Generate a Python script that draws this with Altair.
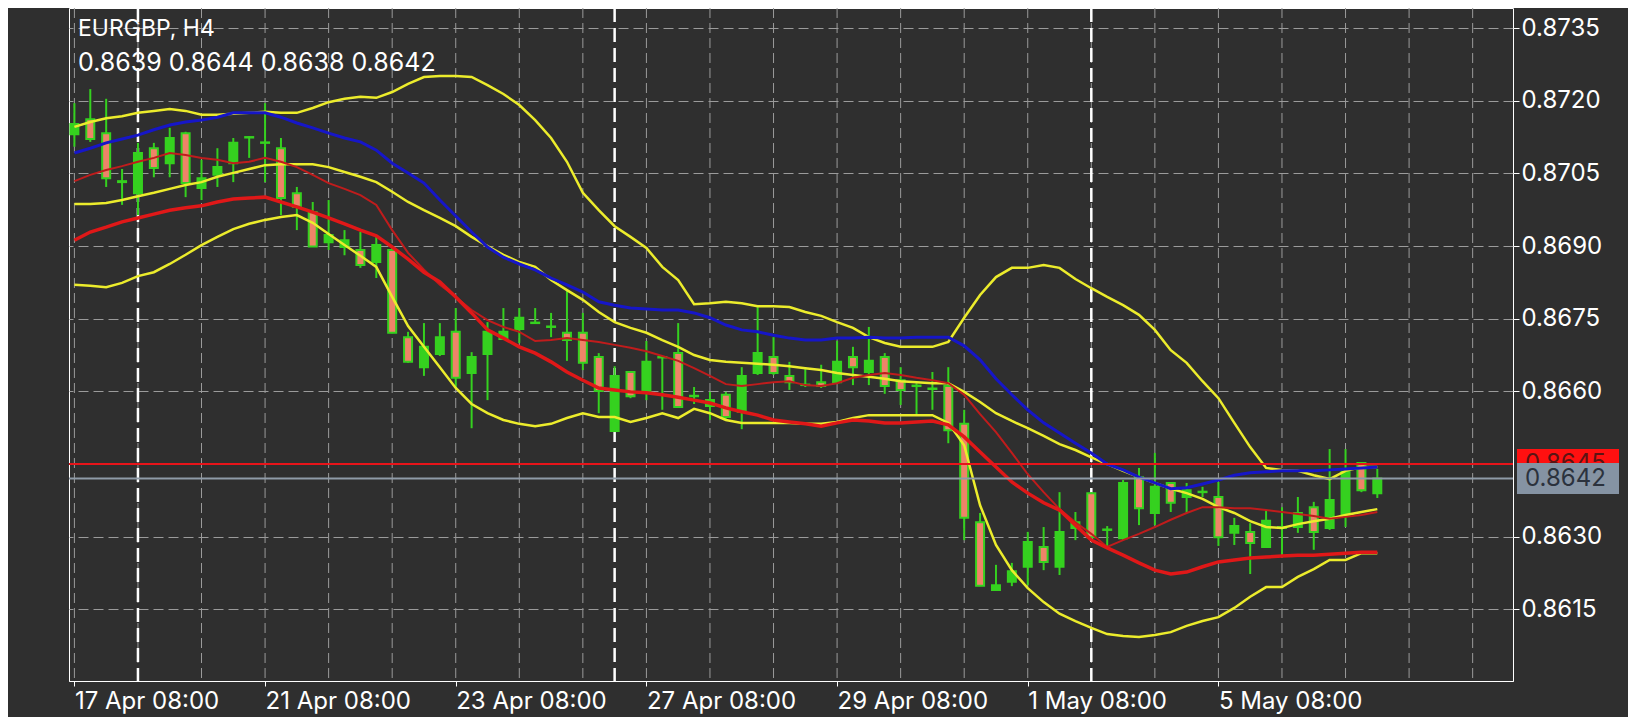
import altair as alt
import pandas as pd

# ---------------- data ----------------
symbol_title = "EURGBP, H4"
ohlc_title = "0.8639 0.8644 0.8638 0.8642"

x_label_idx = [0, 12, 24, 36, 48, 60, 72]
x_labels = ["17 Apr 08:00", "21 Apr 08:00", "23 Apr 08:00", "27 Apr 08:00",
            "29 Apr 08:00", "1 May 08:00", "5 May 08:00"]
grid_idx = [0, 4, 8, 12, 16, 20, 24, 28, 32, 36, 40, 44, 48, 52, 56, 60, 64,
            68, 72, 76, 80, 84, 88]
separator_idx = [4, 34, 64]
y_ticks = [0.8615, 0.8630, 0.8660, 0.8675, 0.8690, 0.8705, 0.8720, 0.8735]
ask_price = [0.8645]
bid_price = [0.8642]

opens = [0.87131, 0.87162, 0.87133, 0.87032, 0.87009, 0.87102, 0.87071, 0.87133, 0.87020, 0.87047,
         0.87071, 0.87125, 0.87113, 0.87102, 0.87009, 0.86970, 0.86908, 0.86898, 0.86892, 0.86867,
         0.86892, 0.86712, 0.86650, 0.86677, 0.86723, 0.86638, 0.86677, 0.86708, 0.86729, 0.86741,
         0.86733, 0.86721, 0.86721, 0.86671, 0.86518, 0.86640, 0.86599, 0.86671, 0.86679, 0.86590,
         0.86570, 0.86593, 0.86558, 0.86638, 0.86671, 0.86632, 0.86613, 0.86619, 0.86619, 0.86671,
         0.86640, 0.86671, 0.86623, 0.86611, 0.86605, 0.86611, 0.86533, 0.86330, 0.86190, 0.86207,
         0.86238, 0.86279, 0.86238, 0.86318, 0.86390, 0.86314, 0.86297, 0.86423, 0.86349, 0.86411,
         0.86382, 0.86392, 0.86382, 0.86308, 0.86310, 0.86279, 0.86318, 0.86320, 0.86361, 0.86318,
         0.86345, 0.86452, 0.86390]
highs = [0.87195, 0.87224, 0.87204, 0.87059, 0.87113, 0.87113, 0.87144, 0.87136, 0.87078, 0.87102,
         0.87123, 0.87127, 0.87195, 0.87123, 0.87022, 0.86991, 0.86995, 0.86933, 0.86929, 0.86921,
         0.86896, 0.86723, 0.86741, 0.86741, 0.86772, 0.86681, 0.86743, 0.86772, 0.86772, 0.86772,
         0.86762, 0.86811, 0.86762, 0.86679, 0.86652, 0.86642, 0.86704, 0.86673, 0.86741, 0.86609,
         0.86599, 0.86599, 0.86650, 0.86774, 0.86712, 0.86661, 0.86646, 0.86655, 0.86704, 0.86692,
         0.86733, 0.86679, 0.86650, 0.86617, 0.86640, 0.86650, 0.86562, 0.86349, 0.86242, 0.86246,
         0.86310, 0.86320, 0.86392, 0.86351, 0.86392, 0.86322, 0.86417, 0.86442, 0.86473, 0.86413,
         0.86411, 0.86403, 0.86413, 0.86339, 0.86328, 0.86355, 0.86361, 0.86382, 0.86372, 0.86481,
         0.86481, 0.86454, 0.86440]
lows = [0.87105, 0.87115, 0.87022, 0.86985, 0.86964, 0.87042, 0.87042, 0.87001, 0.86995, 0.87022,
        0.87032, 0.87082, 0.87032, 0.86964, 0.86933, 0.86898, 0.86892, 0.86881, 0.86855, 0.86834,
        0.86720, 0.86659, 0.86632, 0.86673, 0.86607, 0.86524, 0.86582, 0.86706, 0.86700, 0.86740,
        0.86712, 0.86663, 0.86644, 0.86555, 0.86516, 0.86586, 0.86582, 0.86562, 0.86566, 0.86574,
        0.86541, 0.86541, 0.86522, 0.86634, 0.86634, 0.86603, 0.86609, 0.86607, 0.86615, 0.86613,
        0.86613, 0.86595, 0.86572, 0.86551, 0.86562, 0.86493, 0.86293, 0.86198, 0.86189, 0.86198,
        0.86200, 0.86231, 0.86221, 0.86293, 0.86293, 0.86281, 0.86293, 0.86324, 0.86324, 0.86351,
        0.86349, 0.86382, 0.86281, 0.86283, 0.86223, 0.86278, 0.86258, 0.86308, 0.86273, 0.86314,
        0.86320, 0.86392, 0.86380]
closes = [0.87152, 0.87121, 0.87040, 0.87034, 0.87092, 0.87061, 0.87123, 0.87030, 0.87040, 0.87063,
          0.87113, 0.87124, 0.87114, 0.86999, 0.86981, 0.86899, 0.86923, 0.86912, 0.86861, 0.86902,
          0.86721, 0.86661, 0.86692, 0.86712, 0.86628, 0.86671, 0.86723, 0.86723, 0.86752, 0.86742,
          0.86734, 0.86706, 0.86659, 0.86601, 0.86632, 0.86590, 0.86661, 0.86670, 0.86568, 0.86591,
          0.86582, 0.86547, 0.86632, 0.86679, 0.86638, 0.86619, 0.86614, 0.86611, 0.86661, 0.86650,
          0.86663, 0.86611, 0.86603, 0.86612, 0.86606, 0.86520, 0.86339, 0.86199, 0.86200, 0.86229,
          0.86289, 0.86248, 0.86310, 0.86330, 0.86299, 0.86315, 0.86411, 0.86359, 0.86403, 0.86370,
          0.86396, 0.86393, 0.86299, 0.86322, 0.86287, 0.86333, 0.86320, 0.86349, 0.86310, 0.86376,
          0.86434, 0.86396, 0.86420]

bb_upper = [0.87146, 0.87156, 0.87164, 0.87168, 0.87175, 0.87179, 0.87183, 0.87179, 0.87171, 0.87171,
            0.87173, 0.87175, 0.87177, 0.87175, 0.87175, 0.87185, 0.87197, 0.87204, 0.87208, 0.87206,
            0.87218, 0.87235, 0.87249, 0.87251, 0.87251, 0.87249, 0.87232, 0.87214, 0.87191, 0.87160,
            0.87123, 0.87074, 0.87010, 0.86974, 0.86941, 0.86919, 0.86896, 0.86857, 0.86830, 0.86780,
            0.86782, 0.86785, 0.86782, 0.86776, 0.86776, 0.86774, 0.86764, 0.86756, 0.86743, 0.86731,
            0.86712, 0.86700, 0.86692, 0.86692, 0.86692, 0.86702, 0.86752, 0.86799, 0.86836, 0.86855,
            0.86855, 0.86861, 0.86855, 0.86832, 0.86813, 0.86795, 0.86778, 0.86758, 0.86727, 0.86685,
            0.86659, 0.86621, 0.86586, 0.86535, 0.86485, 0.86442, 0.86438, 0.86436, 0.86427, 0.86419,
            0.86436, 0.86444, 0.86444]
bb_middle = [0.86987, 0.86987, 0.86989, 0.86995, 0.87003, 0.87010, 0.87018, 0.87026, 0.87032, 0.87043,
             0.87051, 0.87059, 0.87067, 0.87069, 0.87069, 0.87069, 0.87063, 0.87053, 0.87043, 0.87032,
             0.87012, 0.86991, 0.86974, 0.86958, 0.86941, 0.86919, 0.86900, 0.86882, 0.86867, 0.86857,
             0.86830, 0.86809, 0.86789, 0.86764, 0.86743, 0.86731, 0.86721, 0.86706, 0.86692, 0.86675,
             0.86665, 0.86661, 0.86659, 0.86657, 0.86655, 0.86652, 0.86648, 0.86644, 0.86638, 0.86634,
             0.86630, 0.86626, 0.86621, 0.86619, 0.86617, 0.86617, 0.86599, 0.86578, 0.86555, 0.86539,
             0.86524, 0.86508, 0.86491, 0.86479, 0.86464, 0.86450, 0.86436, 0.86423, 0.86411, 0.86399,
             0.86390, 0.86378, 0.86361, 0.86349, 0.86332, 0.86320, 0.86318, 0.86326, 0.86332, 0.86337,
             0.86345, 0.86351, 0.86357]
bb_lower = [0.86820, 0.86818, 0.86815, 0.86824, 0.86838, 0.86846, 0.86863, 0.86882, 0.86902, 0.86919,
            0.86935, 0.86946, 0.86954, 0.86960, 0.86964, 0.86948, 0.86925, 0.86902, 0.86880, 0.86857,
            0.86795, 0.86735, 0.86692, 0.86650, 0.86607, 0.86574, 0.86555, 0.86541, 0.86533, 0.86528,
            0.86533, 0.86545, 0.86555, 0.86547, 0.86547, 0.86537, 0.86545, 0.86555, 0.86545, 0.86564,
            0.86555, 0.86541, 0.86535, 0.86535, 0.86535, 0.86535, 0.86533, 0.86533, 0.86537, 0.86545,
            0.86551, 0.86551, 0.86551, 0.86551, 0.86551, 0.86535, 0.86489, 0.86365, 0.86283, 0.86231,
            0.86194, 0.86165, 0.86141, 0.86126, 0.86112, 0.86099, 0.86095, 0.86093, 0.86097, 0.86103,
            0.86116, 0.86126, 0.86134, 0.86153, 0.86176, 0.86196, 0.86196, 0.86217, 0.86233, 0.86252,
            0.86252, 0.86266, 0.86266]
ma_blue = [0.87092, 0.87102, 0.87113, 0.87121, 0.87129, 0.87140, 0.87150, 0.87156, 0.87160, 0.87166,
           0.87175, 0.87175, 0.87175, 0.87166, 0.87154, 0.87144, 0.87133, 0.87123, 0.87115, 0.87098,
           0.87071, 0.87051, 0.87030, 0.86995, 0.86962, 0.86929, 0.86898, 0.86877, 0.86863, 0.86851,
           0.86834, 0.86820, 0.86805, 0.86785, 0.86778, 0.86772, 0.86770, 0.86768, 0.86768, 0.86762,
           0.86752, 0.86737, 0.86727, 0.86723, 0.86716, 0.86710, 0.86706, 0.86706, 0.86710, 0.86710,
           0.86712, 0.86710, 0.86710, 0.86712, 0.86712, 0.86712, 0.86694, 0.86665, 0.86626, 0.86593,
           0.86562, 0.86535, 0.86514, 0.86493, 0.86473, 0.86450, 0.86438, 0.86423, 0.86411, 0.86399,
           0.86401, 0.86409, 0.86417, 0.86427, 0.86432, 0.86434, 0.86436, 0.86436, 0.86436, 0.86438,
           0.86440, 0.86442, 0.86444]
ma_red_thin = [0.87034, 0.87047, 0.87057, 0.87065, 0.87074, 0.87082, 0.87092, 0.87088, 0.87082, 0.87078,
               0.87071, 0.87074, 0.87082, 0.87074, 0.87063, 0.87047, 0.87030, 0.87018, 0.87005, 0.86985,
               0.86933, 0.86886, 0.86851, 0.86820, 0.86795, 0.86768, 0.86747, 0.86733, 0.86723, 0.86704,
               0.86706, 0.86710, 0.86706, 0.86702, 0.86696, 0.86690, 0.86683, 0.86673, 0.86663, 0.86648,
               0.86632, 0.86615, 0.86611, 0.86615, 0.86619, 0.86621, 0.86613, 0.86611, 0.86617, 0.86628,
               0.86634, 0.86638, 0.86634, 0.86628, 0.86623, 0.86617, 0.86593, 0.86553, 0.86516, 0.86473,
               0.86429, 0.86392, 0.86357, 0.86330, 0.86306, 0.86279, 0.86293, 0.86306, 0.86320, 0.86335,
               0.86349, 0.86361, 0.86361, 0.86359, 0.86359, 0.86355, 0.86351, 0.86347, 0.86343, 0.86337,
               0.86341, 0.86345, 0.86351]
ma_red_thick = [0.86912, 0.86929, 0.86939, 0.86950, 0.86958, 0.86966, 0.86974, 0.86979, 0.86983, 0.86991,
                0.86997, 0.86999, 0.87001, 0.86991, 0.86981, 0.86970, 0.86958, 0.86946, 0.86933, 0.86921,
                0.86898, 0.86873, 0.86846, 0.86826, 0.86795, 0.86762, 0.86727, 0.86710, 0.86692, 0.86679,
                0.86661, 0.86640, 0.86623, 0.86607, 0.86603, 0.86599, 0.86597, 0.86593, 0.86588, 0.86582,
                0.86576, 0.86566, 0.86558, 0.86551, 0.86541, 0.86537, 0.86533, 0.86528, 0.86535, 0.86541,
                0.86539, 0.86535, 0.86535, 0.86537, 0.86539, 0.86531, 0.86506, 0.86475, 0.86444, 0.86413,
                0.86390, 0.86370, 0.86355, 0.86324, 0.86293, 0.86277, 0.86262, 0.86246, 0.86231, 0.86223,
                0.86227, 0.86238, 0.86248, 0.86252, 0.86256, 0.86258, 0.86260, 0.86262, 0.86262, 0.86264,
                0.86266, 0.86268, 0.86268]

# ---------------- styling ----------------
BG = "#2f2f2f"
GRID = "#9b9b9b"
GREEN = "#35d11f"
SALMON = "#ee8468"
YELLOW = "#ecec2c"
BLUE = "#1616c8"
RED = "#e01818"
RED_THIN = "#c01c1c"
WHITE = "#ffffff"
FONT = "Inter"
W, H = 1444, 673

n = len(opens)
candles = pd.DataFrame({"idx": list(range(n)), "open": opens, "high": highs,
                        "low": lows, "close": closes})
lines = pd.DataFrame({"idx": list(range(n)), "bb_upper": bb_upper, "bb_middle": bb_middle,
                      "bb_lower": bb_lower, "ma_blue": ma_blue, "ma_red_thin": ma_red_thin,
                      "ma_red_thick": ma_red_thick})

xs = alt.Scale(domain=[-0.025, 90.225], nice=False, zero=False)
ys = alt.Scale(domain=[0.860022, 0.873914], nice=False, zero=False)

label_expr = " : ".join(
    f"datum.value == {i} ? '{t}'" for i, t in zip(x_label_idx, x_labels)) + " : ''"

xaxis = alt.Axis(values=x_label_idx, labelExpr=label_expr, title=None, grid=False,
                 domain=True, domainColor=WHITE, domainWidth=1, ticks=True, tickColor=WHITE,
                 tickSize=5, labelAlign="left", labelPadding=3, labelColor=WHITE,
                 labelFont=FONT, labelFontSize=24, labelOverlap=False, labelFlush=False,
                 labelBound=False)
yaxis = alt.Axis(orient="right", values=y_ticks, labelExpr="format(datum.value, '.4f')",
                 title=None, grid=True, gridColor=GRID, gridDash=[10, 5], gridWidth=1,
                 domain=False, ticks=True, tickColor=WHITE, tickSize=6, labelPadding=2,
                 labelColor=WHITE, labelFont=FONT, labelFontSize=24, labelOverlap=False,
                 labelFlush=False)

X = alt.X("idx:Q", scale=xs, axis=xaxis)


def Y(field):
    return alt.Y(f"{field}:Q", scale=ys, axis=yaxis)


grid_df = pd.DataFrame({"idx": grid_idx})
sep_df = pd.DataFrame({"idx": separator_idx})

vgrid = alt.Chart(grid_df).mark_rule(color=GRID, strokeWidth=1, strokeDash=[10, 5]).encode(x=X)
seps = alt.Chart(sep_df).mark_rule(color=WHITE, strokeWidth=2.5, strokeDash=[14, 6]).encode(x=X)

wicks = alt.Chart(candles).mark_rule(color=GREEN, strokeWidth=2, clip=True).encode(
    x=X, y=Y("low"), y2="high")
bodies = alt.Chart(candles).mark_bar(size=8, stroke=GREEN, strokeWidth=2, clip=True).encode(
    x=X, y=Y("open"), y2="close",
    fill=alt.condition("datum.close >= datum.open", alt.value(GREEN), alt.value(SALMON)))


def line(field, color, width):
    return alt.Chart(lines).mark_line(color=color, strokeWidth=width, clip=True).encode(
        x=X, y=Y(field))


ind = [
    line("bb_upper", YELLOW, 2.5),
    line("bb_lower", YELLOW, 2.5),
    line("bb_middle", YELLOW, 2.5),
    line("ma_red_thin", RED_THIN, 2),
    line("ma_red_thick", RED, 3.5),
    line("ma_blue", BLUE, 3),
]

ask_df = pd.DataFrame({"price": ask_price})
bid_df = pd.DataFrame({"price": bid_price})

ask_line = alt.Chart(ask_df).mark_rule(color="#e8141a", strokeWidth=2).encode(y=Y("price"))
bid_line = alt.Chart(bid_df).mark_rule(color="#8f9ba8", strokeWidth=2).encode(y=Y("price"))

ask_box = alt.Chart(ask_df).mark_rule(color="#ff1010", strokeWidth=30).encode(
    y=Y("price"), x=alt.value(W + 4), x2=alt.value(W + 106))
ask_txt = alt.Chart(ask_df).mark_text(align="left", baseline="middle", font=FONT,
                                      fontSize=24, color="#5a1414").encode(
    y=Y("price"), x=alt.value(W + 12), text=alt.Text("price:Q", format=".4f"))
bid_box = alt.Chart(bid_df).mark_rule(color="#8593a3", strokeWidth=31).encode(
    y=Y("price"), x=alt.value(W + 4), x2=alt.value(W + 106))
bid_txt = alt.Chart(bid_df).mark_text(align="left", baseline="middle", font=FONT,
                                      fontSize=24, color="#2b323d").encode(
    y=Y("price"), x=alt.value(W + 12), text=alt.Text("price:Q", format=".4f"))

head_df = pd.DataFrame({"t": [symbol_title]})
ohlc_df = pd.DataFrame({"t": [ohlc_title]})
head1 = alt.Chart(head_df).mark_text(align="left", baseline="alphabetic", font=FONT,
                                     fontSize=23, color=WHITE).encode(
    text="t:N", x=alt.value(9), y=alt.value(28))
head2 = alt.Chart(ohlc_df).mark_text(align="left", baseline="alphabetic", font=FONT,
                                     fontSize=25, color=WHITE).encode(
    text="t:N", x=alt.value(9), y=alt.value(63))

chart = alt.layer(
    vgrid, seps, wicks, bodies, *ind, ask_line, bid_line,
    ask_box, ask_txt, bid_box, bid_txt, head1, head2
).properties(
    width=W, height=H,
    autosize=alt.AutoSizeParams(type="none"),
    padding={"left": 61, "top": 0, "right": 115, "bottom": 36},
    background=BG,
).configure_view(stroke=WHITE, strokeWidth=1)

chart.save("out.html", embed_options={"renderer": "svg", "actions": False})
